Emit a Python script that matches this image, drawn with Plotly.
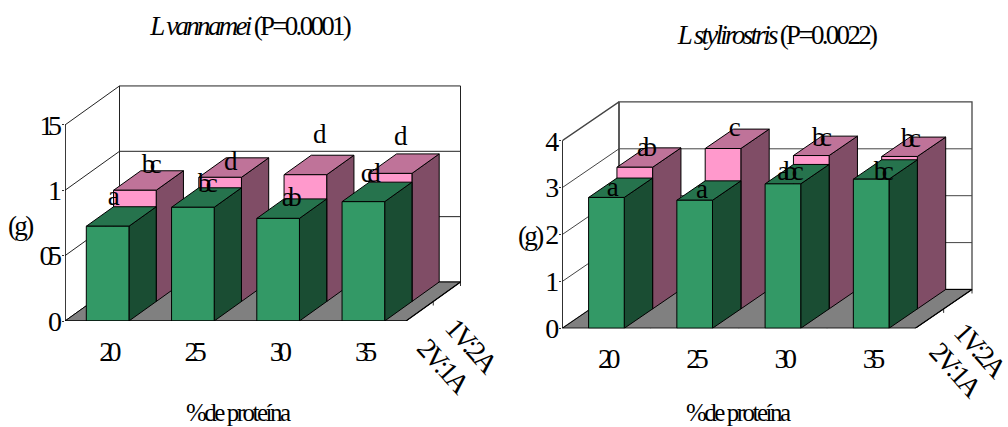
import plotly.graph_objects as go

# ---- data ----
categories = ["20", "25", "30", "35"]
series_names = ["2V:1A", "1V:2A"]
vannamei_2v1a = [0.725, 0.87, 0.785, 0.913]
vannamei_1v2a = [0.851, 0.95, 0.97, 0.98]
stylirostris_2v1a = [2.79, 2.73, 3.08, 3.18]
stylirostris_1v2a = [3.02, 3.42, 3.27, 3.25]
vannamei_letters_front = ["a", "bc", "ab", "cd"]
vannamei_letters_back = ["bc", "d", "d", "d"]
stylirostris_letters_front = ["a", "a", "abc", "bc"]
stylirostris_letters_back = ["ab", "c", "bc", "bc"]
vannamei_ticks = [0, 0.5, 1, 1.5]
vannamei_ticktext = ["0", "05", "1", "15"]
stylirostris_ticks = [0, 1, 2, 3, 4]
stylirostris_ticktext = ["0", "1", "2", "3", "4"]

# ---- styling / layout constants ----
W, H = 1008, 427
FONT = "Liberation Serif"
GREEN = dict(front="#339966", top="#26734D", side="#1A4D33")
PINK = dict(front="#FF99CC", top="#BF7399", side="#804D66")
FLOOR = "#808080"
LETTER_SHIFT = -3.0  # px, compensates the trailing letter-spacing of centred labels

PANELS = [
    dict(ax="", left=65.0, right=470.0, base=321.0, top=60.0, pitch=85.25, unit=130.7,
         ddx=54.5, ddy=39.0, bar=0.5, vals=(vannamei_2v1a, vannamei_1v2a),
         letters=(vannamei_letters_front, vannamei_letters_back),
         ticks=vannamei_ticks, ticktext=vannamei_ticktext, line="#222222", lw=1.0,
         off_front=[(-7.2, 18.6), (1.5, 12.6), (0.3, 9.6), (-6, 17)],
         off_back=[(3.5, 14.5), (-2.8, 4.5), (1, 29), (-3.3, 25.5)]),
    dict(ax="2", left=562.3, right=980.0, base=328.3, top=70.0, pitch=88.25, unit=46.9,
         ddx=56.7, ddy=38.8, bar=0.404, vals=(stylirostris_2v1a, stylirostris_1v2a),
         letters=(stylirostris_letters_front, stylirostris_letters_back),
         ticks=stylirostris_ticks, ticktext=stylirostris_ticktext, line="#444444", lw=1.3,
         off_front=[(-7.6, -1.4), (-6.5, -0.4), (-6.3, 1), (-1.3, -3.7)],
         off_back=[(-1.6, 8.6), (-2.2, 10), (-3.1, 6.6), (-2.4, 6.6)]),
]

fig = go.Figure()


def poly(ax, color, pts_list, line="#000000", lw=1.0):
    xs, ys = [], []
    for pts in pts_list:
        xs += [p[0] for p in pts] + [pts[0][0], None]
        ys += [p[1] for p in pts] + [pts[0][1], None]
    fig.add_trace(go.Scatter(x=xs, y=ys, mode="lines", fill="toself", fillcolor=color,
                             line=dict(color=line, width=lw), hoverinfo="skip",
                             showlegend=False, xaxis="x" + ax, yaxis="y" + ax, cliponaxis=False))


def segs(ax, seg_list, color, lw):
    xs, ys = [], []
    for s in seg_list:
        xs += [p[0] for p in s] + [None]
        ys += [p[1] for p in s] + [None]
    fig.add_trace(go.Scatter(x=xs, y=ys, mode="lines", line=dict(color=color, width=lw),
                             hoverinfo="skip", showlegend=False,
                             xaxis="x" + ax, yaxis="y" + ax, cliponaxis=False))


for P in PANELS:
    ax = P["ax"]
    n = len(categories)
    dx = P["ddx"] / P["pitch"]       # full depth in x units
    dy = P["ddy"] / P["unit"]        # full depth in value units
    vmax = P["ticks"][-1]
    px_x = 1 / P["pitch"]
    px_y = 1 / P["unit"]

    # walls
    poly(ax, "#FFFFFF", [[(0, 0), (dx, dy), (dx, dy + vmax), (0, vmax)],
                         [(dx, dy), (n + dx, dy), (n + dx, dy + vmax), (dx, dy + vmax)]],
         line=P["line"], lw=P["lw"])
    segs(ax, [[(0, v), (dx, v + dy), (n + dx, v + dy)] for v in P["ticks"][1:-1]], P["line"], 1.0)
    # floor
    poly(ax, FLOOR, [[(0, 0), (n, 0), (n + dx, dy), (dx, dy)]], line="#000000")
    # depth-axis and front-axis ticks
    segs(ax, [[(n + dx * d, dy * d), (n + dx * d, dy * d - 4 * px_y)] for d in (0, 0.5, 1)], "#333333", 1.0)
    segs(ax, [[(i, 0), (i, -5 * px_y)] for i in range(n + 1)], "#333333", 1.0)

    # bars: back row first, then front row
    for row in (1, 0):
        vals = P["vals"][row]
        col = PINK if row == 1 else GREEN
        z0 = 0.5 * row
        bw = P["bar"]
        fronts, tops, sides = [], [], []
        for i, v in enumerate(vals):
            xl = i + 0.5 - bw / 2 + dx * z0
            xr = xl + bw
            b = dy * z0
            t = v + dy * z0
            step_x, step_y = dx * 0.5, dy * 0.5
            fronts.append([(xl, b), (xr, b), (xr, t), (xl, t)])
            tops.append([(xl, t), (xr, t), (xr + step_x, t + step_y), (xl + step_x, t + step_y)])
            sides.append([(xr, b), (xr + step_x, b + step_y), (xr + step_x, t + step_y), (xr, t)])
        poly(ax, col["side"], sides)
        poly(ax, col["top"], tops)
        poly(ax, col["front"], fronts)

    # axis lines over the floor
    segs(ax, [[(0, 0), (0, vmax)], [(0, 0), (n, 0)], [(n, 0), (n + dx, dy)]], "#000000", 1.2)

    # letters (anchored at the top face of each bar)
    for row, offs in ((1, P["off_back"]), (0, P["off_front"])):
        vals = P["vals"][row]
        lx, ly = [], []
        for i, v in enumerate(vals):
            lx.append(i + 0.5 + dx * (0.5 * row + 0.25) + (offs[i][0] + LETTER_SHIFT) * px_x)
            ly.append(v + dy * (0.5 * row + 0.25) + offs[i][1] * px_y)
        fig.add_trace(go.Scatter(x=lx, y=ly, mode="text", text=P["letters"][row],
                                 textposition="middle center",
                                 textfont=dict(family=FONT, size=27, color="#000000"),
                                 hoverinfo="skip", showlegend=False,
                                 xaxis="x" + ax, yaxis="y" + ax, cliponaxis=False))

    xa = dict(domain=[P["left"] / W, P["right"] / W],
              range=[0, (P["right"] - P["left"]) / P["pitch"]],
              tickmode="array", tickvals=[i + 0.5 for i in range(n)], ticktext=categories,
              ticks="", showgrid=False, zeroline=False, showline=False, automargin=False,
              tickfont=dict(family=FONT, size=28, color="#000000"), ticklabelstandoff=11,
              anchor="y" + ax)
    ya = dict(domain=[(H - P["base"]) / H, (H - P["top"]) / H],
              range=[0, (P["base"] - P["top"]) / P["unit"]],
              tickmode="array", tickvals=P["ticks"], ticktext=P["ticktext"], automargin=False,
              ticks="outside", ticklen=2, tickcolor="#333333", showgrid=False, zeroline=False, showline=False,
              tickfont=dict(family=FONT, size=28, color="#000000"), ticklabelstandoff=0,
              anchor="x" + ax)
    fig.update_layout({"xaxis" + ax: xa, "yaxis" + ax: ya})


def note(text, x, y, size, angle=0):
    return dict(text=text, x=x / W, y=1 - y / H, xref="paper", yref="paper", showarrow=False,
                xanchor="center", yanchor="middle", textangle=angle,
                font=dict(family=FONT, size=size, color="#000000"))


annotations = [
    note("<i>L vannamei</i> (P=0.0001)", 248.7, 26, 27),
    note("<i>L stylirostris</i> (P=0.0022)", 775.7, 35, 27),
    note("(g)", 19, 226, 27),
    note("(g)", 529.5, 235.7, 27),
    note("%de proteína", 237, 412, 25),
    note("%de proteína", 737, 412.5, 25),
    note(series_names[1], 471.7, 345, 28, 48),
    note(series_names[0], 443.3, 365, 28, 48),
    note(series_names[1], 980, 349, 28, 48),
    note(series_names[0], 955.7, 369, 28, 48),
]

fig.update_layout(width=W, height=H, margin=dict(l=0, r=0, t=0, b=0), autosize=False,
                  paper_bgcolor="#FFFFFF", plot_bgcolor="#FFFFFF", showlegend=False,
                  annotations=annotations)

post = """
document.body.style.margin = '0';
var s = document.createElement('style');
s.textContent = '.xaxislayer-above text, .yaxislayer-above text, .textpoint text { letter-spacing: -0.2em; } .annotation text { letter-spacing: -0.1em; }';
document.head.appendChild(s);
"""
fig.write_html("out.html", post_script=post, config=dict(displayModeBar=False))
